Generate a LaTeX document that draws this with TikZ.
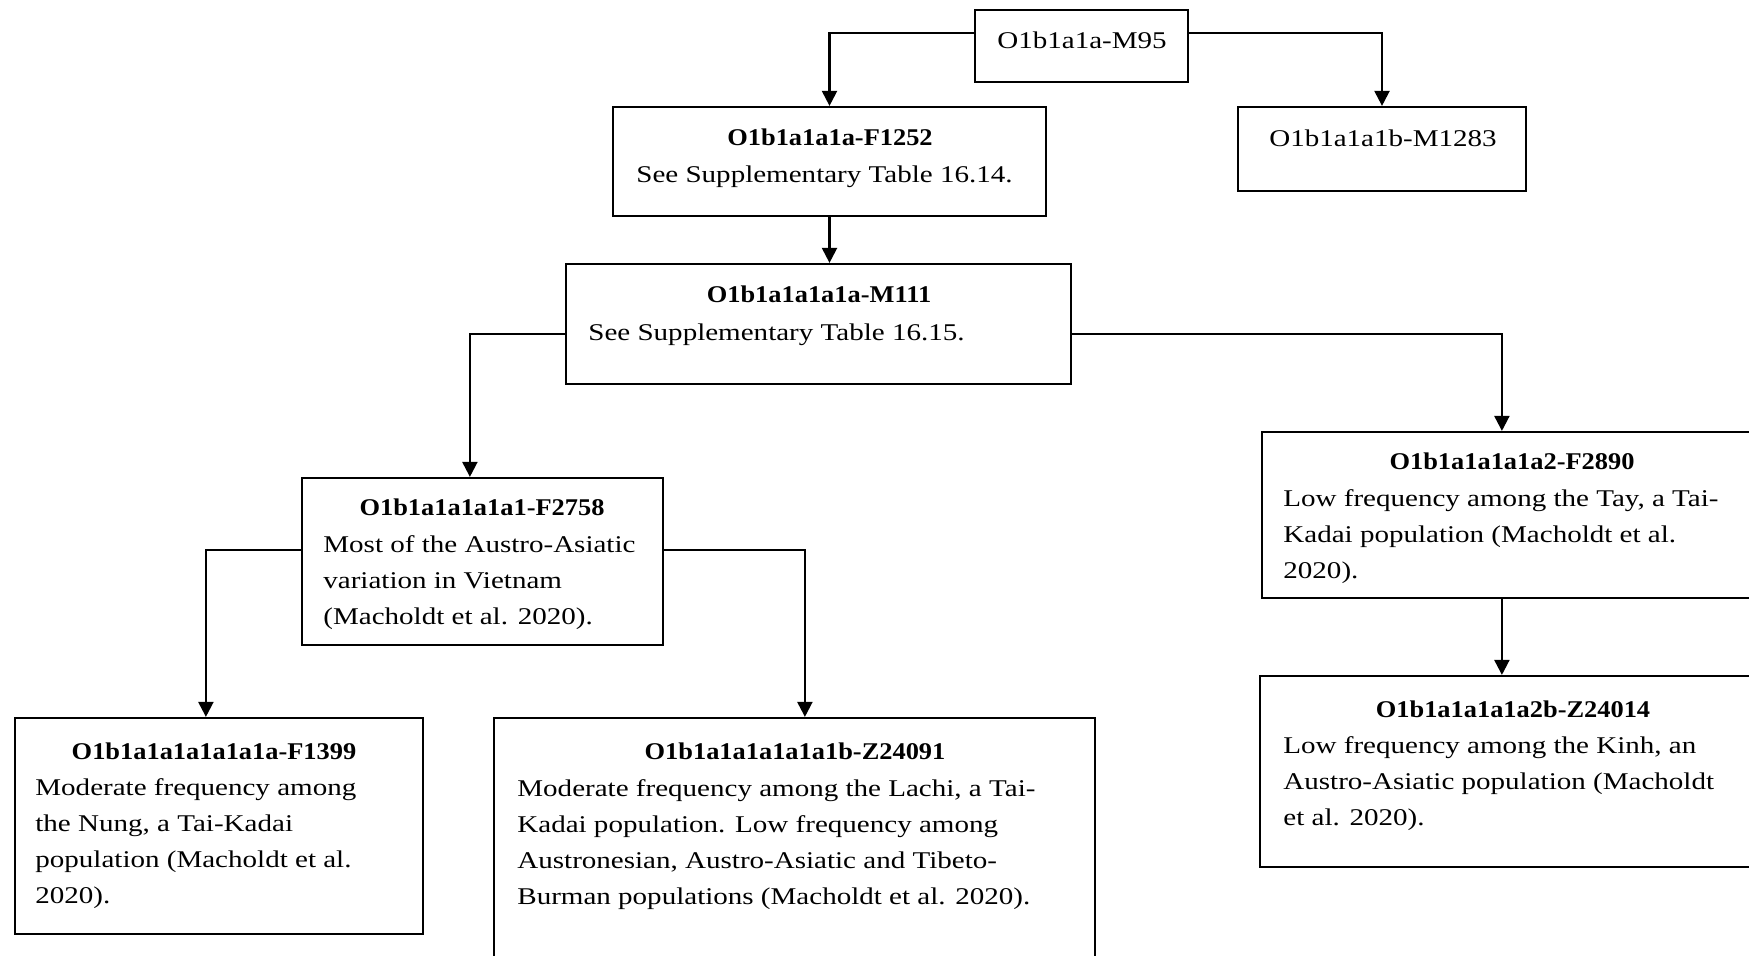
\documentclass[tikz,border=0pt]{standalone}
\usepackage{fontspec}
\setmainfont{Liberation Serif}
\newfontfamily\bodyfont{Liberation Serif}[FakeStretch=1.21]
\newfontfamily\titlefont{Liberation Serif}[FakeStretch=1.1]
\usetikzlibrary{fit,calc,arrows.meta}
\begin{document}
\begin{tikzpicture}[x=0.5pt,y=-0.5pt,
  box/.style={draw, line width=1.1pt, inner sep=0pt},
  conn/.style={line width=1.1pt, -{Triangle[length=7.5pt,width=7.5pt]}},
  ttl/.style={anchor=base, font=\fontsize{12pt}{18pt}\titlefont\bfseries, inner sep=0pt},
  plain/.style={anchor=base, font=\fontsize{12pt}{18pt}\bodyfont, inner sep=0pt},
  txt/.style={anchor=base west, align=left, font=\fontsize{12pt}{18pt}\bodyfont, inner sep=0pt}]
\useasboundingbox[fill=white] (0,0) rectangle (1749,956);

% boxes
\node[box, fit={(975,10)(1188,82)}] (m95) {};
\node[box, fit={(1238,107)(1526,191)}] (m1283) {};
\node[box, fit={(613,107)(1046,216)}] (f1252) {};
\node[box, fit={(566,264)(1071,384)}] (m111) {};
\node[box, fit={(302,478)(663,645)}] (f2758) {};
\node[box, fit={(1262,432)(1762,598)}] (f2890) {};
\node[box, fit={(1260,676)(1762,867)}] (z24014) {};
\node[box, fit={(15,718)(423,934)}] (f1399) {};
\node[box, fit={(494,718)(1095,975)}] (z24091) {};

% texts (multi-line bodies are placed by the baseline of their last line)
\node[plain] (m95t) at (1082,49) {O1b1a1a-M95};
\node[plain] (m1283t) at (1383,147) {O1b1a1a1b-M1283};

\node[ttl] (f1252t) at (830,146) {O1b1a1a1a-F1252};
\node[txt] (f1252b) at (636,183) {See Supplementary Table 16.14.};

\node[ttl] (m111t) at (819,303) {O1b1a1a1a1a-M111};
\node[txt] (m111b) at (588,341) {See Supplementary Table 16.15.};

\node[ttl] (f2758t) at (482,516) {O1b1a1a1a1a1-F2758};
\node[txt] (f2758b) at (323,624) {Most of the Austro-Asiatic\\variation in Vietnam\\(Macholdt et al. 2020).};

\node[ttl] (f1399t) at (214,759) {O1b1a1a1a1a1a1a-F1399};
\node[txt] (f1399b) at (35,903) {Moderate frequency among\\the Nung, a Tai-Kadai\\population (Macholdt et al.\\2020).};

\node[ttl] (z24091t) at (795,759) {O1b1a1a1a1a1a1b-Z24091};
\node[txt] (z24091b) at (517,904) {Moderate frequency among the Lachi, a Tai-\\Kadai population. Low frequency among\\Austronesian, Austro-Asiatic and Tibeto-\\Burman populations (Macholdt et al. 2020).};

\node[ttl] (f2890t) at (1512,470) {O1b1a1a1a1a2-F2890};
\node[txt] (f2890b) at (1283,578) {Low frequency among the Tay, a Tai-\\Kadai population (Macholdt et al.\\2020).};

\node[ttl] (z24014t) at (1513,717) {O1b1a1a1a1a2b-Z24014};
\node[txt] (z24014b) at (1283,825) {Low frequency among the Kinh, an\\Austro-Asiatic population (Macholdt\\et al. 2020).};

% connectors
\draw[conn] ($(m95.north west)+(0,24)$) -| (f1252.north);
\draw[conn] ($(m95.north east)+(0,24)$) -| (m1283.north);
\draw[conn] (f1252.south) -- (f1252.south |- m111.north);
\draw[conn] ($(m111.north west)+(0,71)$) -| ($(f2758.north west)+(169,0)$);
\draw[conn] ($(m111.north east)+(0,71)$) -| ($(f2890.north west)+(241,0)$);
\draw[conn] ($(f2758.north west)+(0,73)$) -| ($(f1399.north west)+(192,0)$);
\draw[conn] ($(f2758.north east)+(0,73)$) -| ($(z24091.north west)+(312,0)$);
\draw[conn] ($(f2890.south west)+(241,0)$) -- ($(z24014.north west)+(243,0)$);
\end{tikzpicture}
\end{document}
